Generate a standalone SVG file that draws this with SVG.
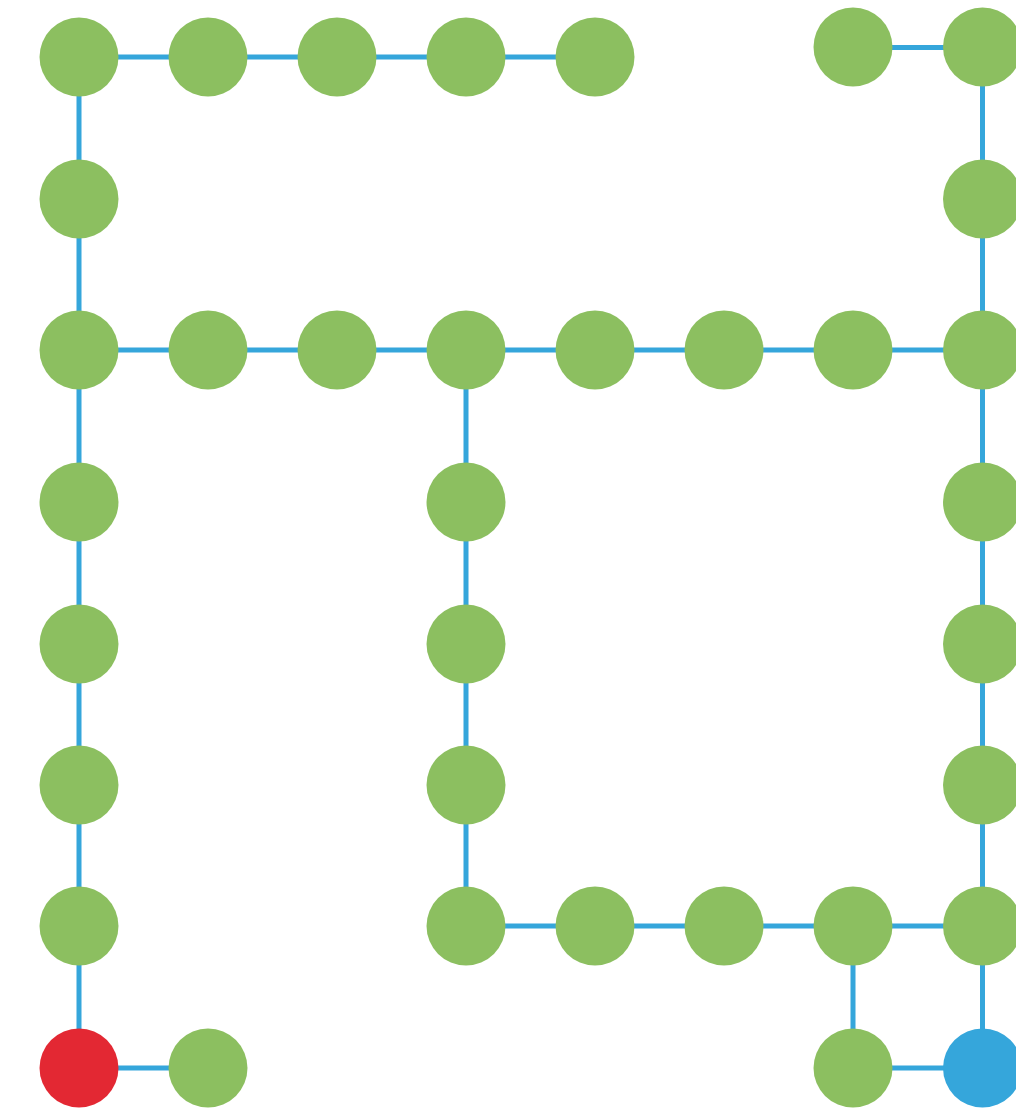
<svg xmlns="http://www.w3.org/2000/svg" width="1016" height="1111" viewBox="0 0 1016 1111">
<style>
.e{stroke:#35a6db;stroke-width:5;fill:none}
.g{fill:#8cbf60}
.r{fill:#e32833}
.b{fill:#35a6db}
</style>
<rect width="1016" height="1111" fill="#fff"/>
<g id="connectors" class="e">
<path d="M79 57H595"/>
<path d="M853 47.5H982"/>
<path d="M79 57V1068"/>
<path d="M79 1068H208"/>
<path d="M79 350H982"/>
<path d="M466 350V926"/>
<path d="M466 926H982"/>
<path d="M853 926V1068"/>
<path d="M853 1068H982"/>
<path d="M982.5 47V1068"/>
</g>
<g id="n_79_57"><circle class="g" cx="79" cy="57" r="39.5"/></g>
<g id="n_208_57"><circle class="g" cx="208" cy="57" r="39.5"/></g>
<g id="n_337_57"><circle class="g" cx="337" cy="57" r="39.5"/></g>
<g id="n_466_57"><circle class="g" cx="466" cy="57" r="39.5"/></g>
<g id="n_595_57"><circle class="g" cx="595" cy="57" r="39.5"/></g>
<g id="n_853_47"><circle class="g" cx="853" cy="47" r="39.5"/></g>
<g id="n_982_47"><circle class="g" cx="982.5" cy="47" r="39.5"/></g>
<g id="n_79_199"><circle class="g" cx="79" cy="199" r="39.5"/></g>
<g id="n_982_199"><circle class="g" cx="982.5" cy="199" r="39.5"/></g>
<g id="n_79_350"><circle class="g" cx="79" cy="350" r="39.5"/></g>
<g id="n_208_350"><circle class="g" cx="208" cy="350" r="39.5"/></g>
<g id="n_337_350"><circle class="g" cx="337" cy="350" r="39.5"/></g>
<g id="n_466_350"><circle class="g" cx="466" cy="350" r="39.5"/></g>
<g id="n_595_350"><circle class="g" cx="595" cy="350" r="39.5"/></g>
<g id="n_724_350"><circle class="g" cx="724" cy="350" r="39.5"/></g>
<g id="n_853_350"><circle class="g" cx="853" cy="350" r="39.5"/></g>
<g id="n_982_350"><circle class="g" cx="982.5" cy="350" r="39.5"/></g>
<g id="n_79_502"><circle class="g" cx="79" cy="502" r="39.5"/></g>
<g id="n_466_502"><circle class="g" cx="466" cy="502" r="39.5"/></g>
<g id="n_982_502"><circle class="g" cx="982.5" cy="502" r="39.5"/></g>
<g id="n_79_644"><circle class="g" cx="79" cy="644" r="39.5"/></g>
<g id="n_466_644"><circle class="g" cx="466" cy="644" r="39.5"/></g>
<g id="n_982_644"><circle class="g" cx="982.5" cy="644" r="39.5"/></g>
<g id="n_79_785"><circle class="g" cx="79" cy="785" r="39.5"/></g>
<g id="n_466_785"><circle class="g" cx="466" cy="785" r="39.5"/></g>
<g id="n_982_785"><circle class="g" cx="982.5" cy="785" r="39.5"/></g>
<g id="n_79_926"><circle class="g" cx="79" cy="926" r="39.5"/></g>
<g id="n_466_926"><circle class="g" cx="466" cy="926" r="39.5"/></g>
<g id="n_595_926"><circle class="g" cx="595" cy="926" r="39.5"/></g>
<g id="n_724_926"><circle class="g" cx="724" cy="926" r="39.5"/></g>
<g id="n_853_926"><circle class="g" cx="853" cy="926" r="39.5"/></g>
<g id="n_982_926"><circle class="g" cx="982.5" cy="926" r="39.5"/></g>
<g id="n_start"><circle class="r" cx="79" cy="1068" r="39.5"/></g>
<g id="n_208_1068"><circle class="g" cx="208" cy="1068" r="39.5"/></g>
<g id="n_853_1068"><circle class="g" cx="853" cy="1068" r="39.5"/></g>
<g id="n_goal"><circle class="b" cx="982.5" cy="1068" r="39.5"/></g>
</svg>
